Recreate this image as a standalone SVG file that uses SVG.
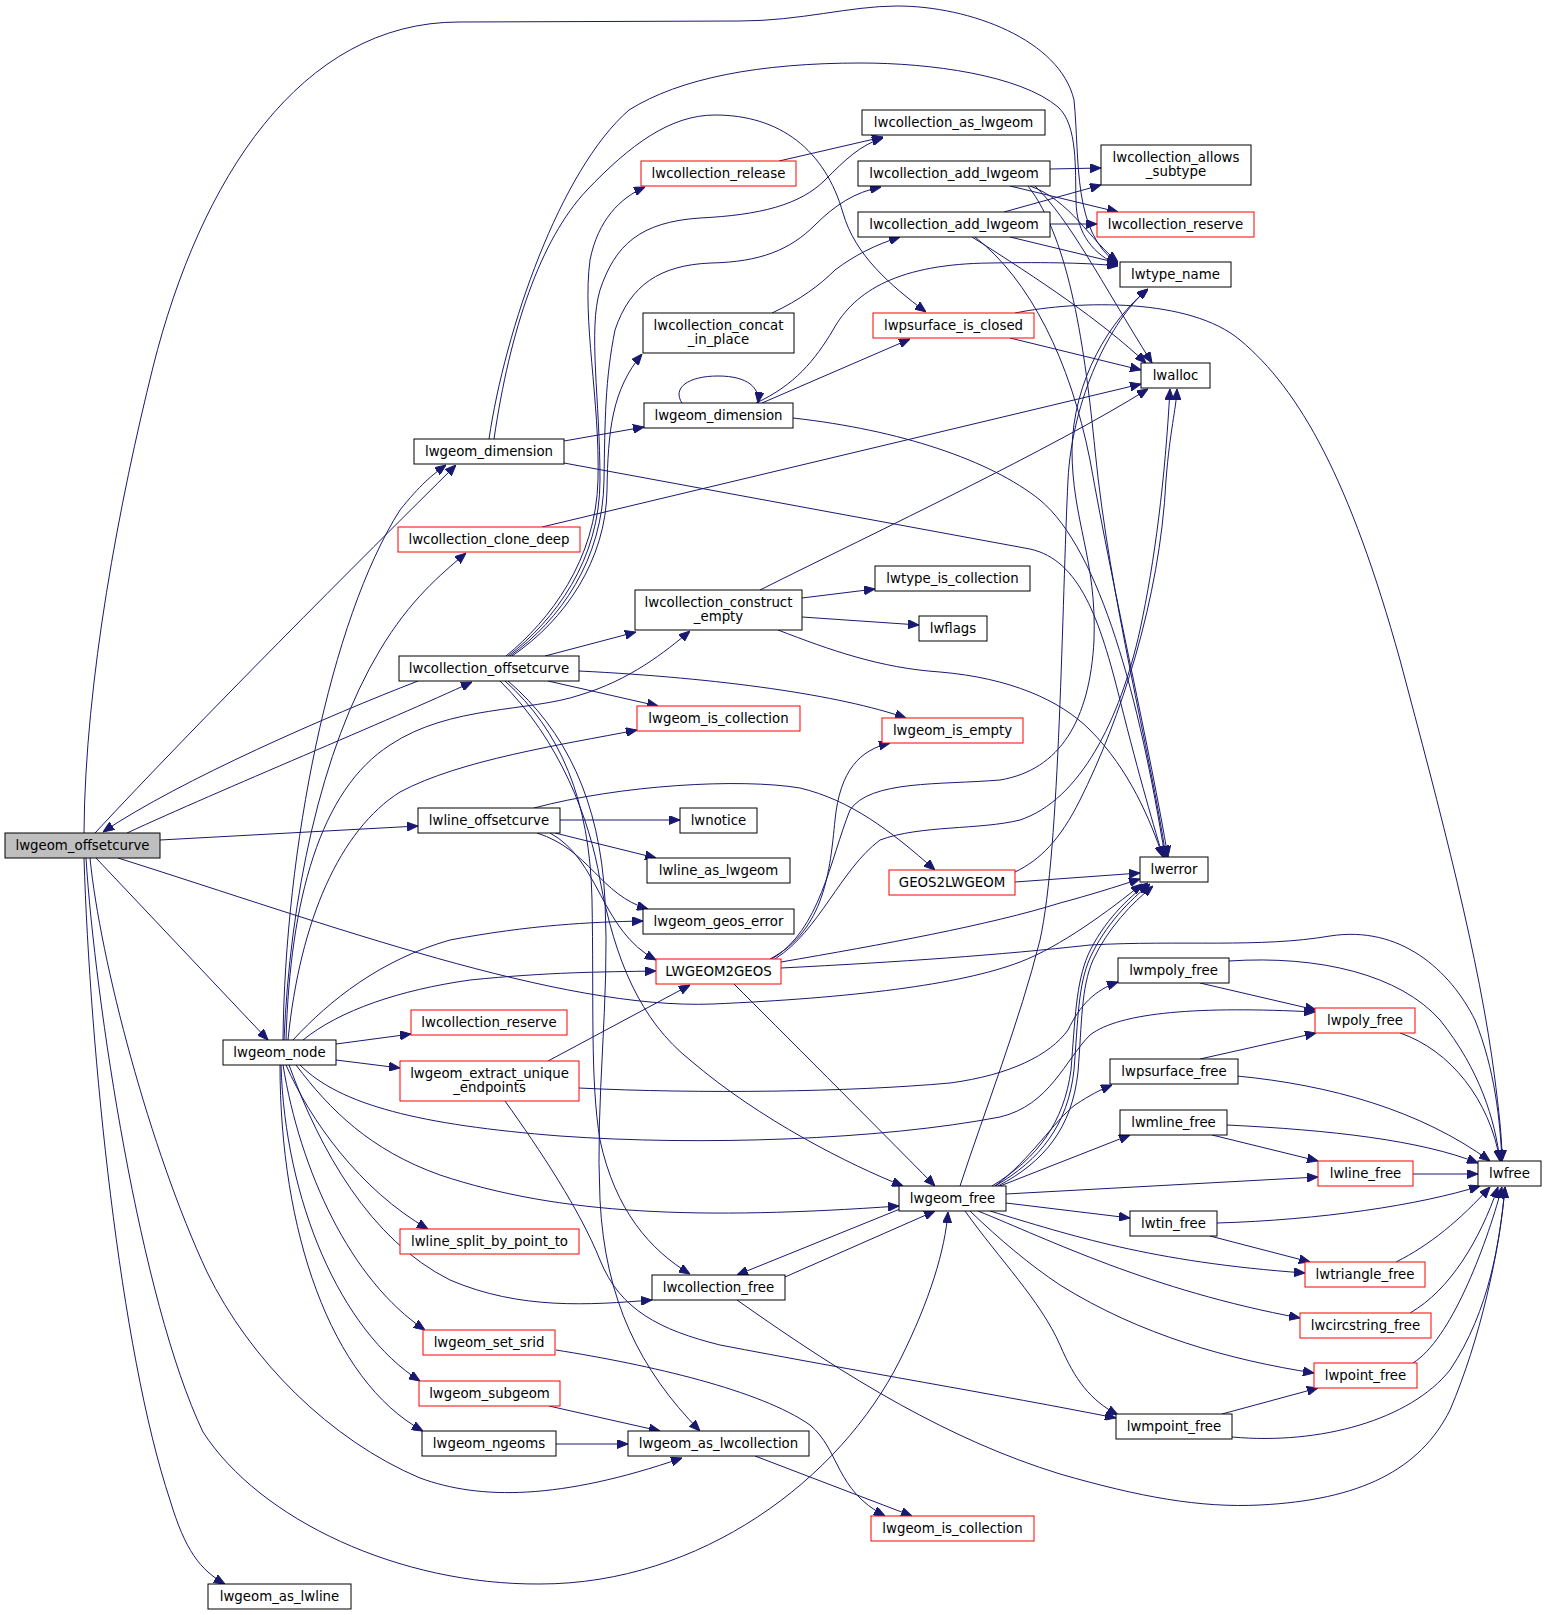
<svg xmlns="http://www.w3.org/2000/svg" width="1547" height="1615" viewBox="0 0 1547 1615">
<style>
.node rect{fill:#ffffff;stroke:#000000;stroke-width:1}
.node.red rect{stroke:#ff0000}
.node.root rect{fill:#bfbfbf}
.node text{font-family:"DejaVu Sans","Liberation Sans",sans-serif;font-size:13.33px;text-anchor:middle;fill:#000000}
#edges path{fill:none;stroke:#191970;stroke-width:1;marker-end:url(#arr)}
</style>
<defs>
<marker id="arr" markerWidth="11" markerHeight="9" refX="11" refY="4.5" orient="auto" markerUnits="userSpaceOnUse">
<path d="M0,0 L11,4.5 L0,9 z" fill="#191970" stroke="#191970" stroke-width="1"/>
</marker>
</defs>
<rect width="1547" height="1615" fill="#ffffff"/>
<g id="edges">
<path d="M84,833 C85,680 120,500 153,367 C200,180 300,22 459,22 L740,21 C800,21 850,6 897,6 C970,6 1060,40 1074,100 C1080,160 1072,232 1118,264"/>
<path d="M489,439 C505,330 560,170 629,110 C680,78 760,63 861,63 C930,63 1020,75 1058,107 C1078,125 1075,170 1076,200 C1076,235 1095,255 1118,265"/>
<path d="M494,439 C510,330 540,240 587,190 C630,145 670,115 715,115 C780,115 825,150 843,213 C855,255 890,285 926,312"/>
<path d="M564,441 L644,427"/>
<path d="M564,463 L1030,549 C1080,560 1100,620 1120,700 C1140,780 1155,830 1163,857"/>
<path d="M682,403 C672,388 688,376 718,376 C748,376 760,388 758,403"/>
<path d="M756,403 C795,385 815,360 833,330 C855,290 900,264 990,263 C1050,262 1090,263 1118,266"/>
<path d="M762,403 L910,339"/>
<path d="M793,418 C900,430 990,460 1040,500 C1100,550 1140,700 1165,857"/>
<path d="M418,681 C330,715 180,780 103,832"/>
<path d="M127,833 C220,790 390,720 472,682"/>
<path d="M95,833 C200,720 360,560 456,465"/>
<path d="M160,840 L418,826"/>
<path d="M96,858 L268,1040"/>
<path d="M118,858 C330,925 560,1010 713,1004 C850,998 960,985 1020,962 C1060,947 1110,910 1142,884"/>
<path d="M90,858 C100,960 150,1150 207,1272 C250,1360 330,1440 420,1478 C480,1500 560,1500 682,1458"/>
<path d="M86,858 C95,1000 140,1300 203,1432 C260,1520 400,1585 540,1584 C700,1584 840,1480 900,1360 C930,1300 945,1250 948,1212"/>
<path d="M84,858 C90,1050 120,1350 170,1500 C185,1550 200,1570 225,1584"/>
<path d="M545,656 L636,632"/>
<path d="M548,681 L658,706"/>
<path d="M579,671 C720,678 840,695 906,718"/>
<path d="M506,656 C550,620 596,560 598,480 C600,400 582,320 590,260 C598,220 620,198 645,187"/>
<path d="M508,656 C555,620 600,560 600,480 C600,400 588,330 600,290 C615,245 640,222 700,218 C760,215 800,205 825,180 C845,160 860,145 883,138"/>
<path d="M510,656 C560,620 603,560 604,480 C605,420 605,380 615,330 C630,285 660,265 711,263 C760,262 790,250 815,225 C835,205 855,192 881,187"/>
<path d="M512,656 C565,620 606,560 607,490 C608,430 612,390 642,354"/>
<path d="M500,681 C560,740 590,820 600,880 C615,960 640,1020 690,1060 C760,1120 850,1165 903,1186"/>
<path d="M505,681 C560,730 590,800 592,900 C594,1000 590,1080 600,1140 C615,1210 650,1250 690,1274"/>
<path d="M508,681 C565,730 600,800 605,900 C610,1000 595,1100 600,1200 C605,1300 640,1370 700,1431"/>
<path d="M560,820 L680,820"/>
<path d="M555,833 L656,858"/>
<path d="M537,833 C590,850 600,895 648,909"/>
<path d="M550,833 C600,860 600,930 656,960"/>
<path d="M534,808 C620,785 740,778 800,788 C850,800 890,830 935,870"/>
<path d="M283,1040 C285,850 330,620 400,510 C420,485 432,475 446,465"/>
<path d="M284,1040 C290,900 320,750 380,650 C410,600 440,575 466,553"/>
<path d="M286,1040 C290,900 320,790 390,745 C450,705 530,712 580,695 C630,680 665,652 690,631"/>
<path d="M288,1040 C300,920 340,830 400,792 C460,760 560,745 637,730"/>
<path d="M293,1040 C330,1000 380,960 450,940 C530,925 590,922 643,921"/>
<path d="M303,1040 C340,1010 400,990 470,980 C550,972 600,972 656,971"/>
<path d="M336,1044 L411,1034"/>
<path d="M336,1060 L400,1068"/>
<path d="M286,1065 C310,1120 360,1190 428,1229"/>
<path d="M283,1065 C300,1170 350,1280 425,1330"/>
<path d="M281,1065 C285,1200 340,1330 420,1381"/>
<path d="M280,1065 C280,1230 330,1380 423,1431"/>
<path d="M289,1065 C320,1150 370,1240 450,1280 C520,1310 590,1305 652,1300"/>
<path d="M296,1065 C330,1110 370,1150 440,1175 C560,1215 700,1220 899,1206"/>
<path d="M300,1065 C340,1105 420,1125 560,1136 C700,1146 880,1140 1000,1117 C1050,1105 1065,1060 1090,1035 C1120,1012 1200,1006 1315,1012"/>
<path d="M548,1061 L690,985"/>
<path d="M505,1101 C540,1150 580,1210 600,1260 C620,1310 660,1330 720,1345 C850,1370 1000,1395 1116,1418"/>
<path d="M579,1088 C700,1094 850,1092 950,1083 C1010,1075 1050,1055 1068,1030 C1080,1005 1095,990 1118,982"/>
<path d="M556,1350 C650,1365 760,1390 810,1425 C840,1450 835,1490 885,1516"/>
<path d="M549,1406 L660,1431"/>
<path d="M556,1444 L628,1444"/>
<path d="M755,1456 L912,1516"/>
<path d="M779,161 L883,137"/>
<path d="M772,313 C800,300 820,285 835,270 C855,255 875,245 900,237"/>
<path d="M802,598 L875,589"/>
<path d="M802,617 L919,625"/>
<path d="M760,590 C880,530 1050,450 1148,389"/>
<path d="M778,630 C830,650 880,668 940,672 C1010,678 1060,700 1090,730 C1130,770 1150,820 1163,857"/>
<path d="M542,527 L1141,384"/>
<path d="M1050,169 L1101,168"/>
<path d="M1010,186 L1118,212"/>
<path d="M1030,186 C1070,200 1090,240 1118,262"/>
<path d="M1035,186 C1070,220 1100,280 1152,363"/>
<path d="M1028,186 C1070,240 1085,350 1095,450 C1110,600 1150,750 1166,857"/>
<path d="M1004,212 L1101,185"/>
<path d="M1050,224 L1097,224"/>
<path d="M1010,237 L1118,263"/>
<path d="M972,237 C1040,280 1100,320 1146,363"/>
<path d="M975,237 C1030,280 1070,360 1090,460 C1115,600 1150,750 1168,857"/>
<path d="M1010,338 L1141,370"/>
<path d="M1015,313 C1080,300 1190,298 1240,340 C1300,390 1350,480 1400,660 C1440,810 1480,960 1495,1080 C1500,1120 1502,1140 1502,1161"/>
<path d="M770,959 C825,930 830,870 835,820 C840,770 860,750 890,743"/>
<path d="M772,959 C820,930 830,860 850,810 C870,780 940,785 1000,780 C1060,770 1090,720 1094,640 C1097,560 1072,520 1072,450 C1073,380 1110,320 1148,289"/>
<path d="M775,959 C820,930 840,870 880,840 C920,825 980,830 1020,820 C1080,800 1120,720 1140,630 C1155,560 1165,480 1170,389"/>
<path d="M781,962 C880,945 990,925 1060,903 C1090,895 1115,887 1140,879"/>
<path d="M781,968 C900,962 1000,955 1090,945 C1180,940 1260,948 1330,936 C1400,925 1450,970 1475,1020 C1495,1070 1500,1120 1502,1161"/>
<path d="M734,984 C780,1030 870,1120 935,1186"/>
<path d="M1015,872 C1040,860 1060,840 1080,800 C1120,720 1160,600 1166,480 C1170,430 1176,410 1177,389"/>
<path d="M1015,882 L1140,873"/>
<path d="M960,1186 C985,1110 1020,1020 1040,940 C1060,850 1062,600 1068,480 C1072,400 1110,320 1148,289"/>
<path d="M900,1209 L737,1275"/>
<path d="M785,1277 L935,1211"/>
<path d="M737,1300 C850,1380 950,1440 1060,1474 C1140,1497 1200,1508 1260,1505 C1360,1500 1420,1470 1450,1410 C1480,1340 1500,1250 1505,1187"/>
<path d="M965,1211 C1000,1260 1040,1300 1060,1345 C1075,1380 1090,1400 1118,1415"/>
<path d="M970,1211 C1000,1240 1030,1265 1060,1285 C1140,1335 1230,1360 1314,1373"/>
<path d="M978,1211 C1050,1240 1150,1290 1300,1318"/>
<path d="M990,1211 C1070,1235 1150,1262 1305,1273"/>
<path d="M1006,1203 L1130,1218"/>
<path d="M1006,1194 L1318,1177"/>
<path d="M1000,1186 L1130,1135"/>
<path d="M995,1186 C1030,1160 1055,1120 1075,1105 C1090,1095 1100,1090 1112,1085"/>
<path d="M992,1186 C1038,1158 1064,1122 1071,1070 C1075,1020 1076,983 1088,955 C1103,922 1128,898 1148,883"/>
<path d="M995,1186 C1040,1160 1068,1125 1074,1070 C1078,1020 1078,985 1090,958 C1105,925 1130,900 1150,884"/>
<path d="M998,1186 C1044,1162 1072,1128 1078,1072 C1082,1022 1081,988 1093,960 C1108,928 1132,903 1153,886"/>
<path d="M1200,983 L1316,1010"/>
<path d="M1229,961 C1320,955 1400,975 1440,1020 C1480,1070 1495,1120 1500,1161"/>
<path d="M1200,1059 L1316,1033"/>
<path d="M1237,1076 C1330,1085 1420,1110 1490,1161"/>
<path d="M1212,1135 L1318,1161"/>
<path d="M1227,1125 C1330,1130 1420,1140 1478,1163"/>
<path d="M1413,1174 L1478,1174"/>
<path d="M1210,1236 L1310,1262"/>
<path d="M1217,1223 C1320,1220 1420,1205 1480,1186"/>
<path d="M1396,1262 C1430,1245 1460,1220 1490,1187"/>
<path d="M1410,1313 C1450,1290 1480,1240 1498,1187"/>
<path d="M1413,1363 C1450,1340 1485,1250 1502,1187"/>
<path d="M1222,1414 L1318,1388"/>
<path d="M1232,1437 C1320,1445 1410,1420 1450,1370 C1490,1310 1500,1240 1505,1187"/>
<path d="M1400,1033 C1450,1050 1490,1100 1500,1161"/>
</g>
<g id="n0" class="node root"><rect x="5" y="833" width="155" height="25"/><text x="82.5" y="850">lwgeom_offsetcurve</text></g>
<g id="n1" class="node"><rect x="414" y="439" width="150" height="25"/><text x="489" y="456">lwgeom_dimension</text></g>
<g id="n2" class="node red"><rect x="398" y="527" width="182" height="25"/><text x="489" y="544">lwcollection_clone_deep</text></g>
<g id="n3" class="node"><rect x="399" y="656" width="180" height="25"/><text x="489" y="673">lwcollection_offsetcurve</text></g>
<g id="n4" class="node"><rect x="418" y="808" width="142" height="25"/><text x="489" y="825">lwline_offsetcurve</text></g>
<g id="n5" class="node"><rect x="223" y="1040" width="113" height="25"/><text x="279.5" y="1057">lwgeom_node</text></g>
<g id="n6" class="node red"><rect x="411" y="1010" width="156" height="25"/><text x="489" y="1027">lwcollection_reserve</text></g>
<g id="n7" class="node red"><rect x="400" y="1061" width="179" height="40"/><text x="489.5" y="1078">lwgeom_extract_unique</text><text x="489.5" y="1092">_endpoints</text></g>
<g id="n8" class="node red"><rect x="400" y="1229" width="179" height="25"/><text x="489.5" y="1246">lwline_split_by_point_to</text></g>
<g id="n9" class="node red"><rect x="423" y="1330" width="132" height="25"/><text x="489" y="1347">lwgeom_set_srid</text></g>
<g id="n10" class="node red"><rect x="419" y="1381" width="141" height="25"/><text x="489.5" y="1398">lwgeom_subgeom</text></g>
<g id="n11" class="node"><rect x="422" y="1431" width="134" height="25"/><text x="489" y="1448">lwgeom_ngeoms</text></g>
<g id="n12" class="node"><rect x="208" y="1584" width="143" height="25"/><text x="279.5" y="1601">lwgeom_as_lwline</text></g>
<g id="n13" class="node red"><rect x="641" y="161" width="155" height="25"/><text x="718.5" y="178">lwcollection_release</text></g>
<g id="n14" class="node"><rect x="643" y="313" width="151" height="40"/><text x="718.5" y="330">lwcollection_concat</text><text x="718.5" y="344">_in_place</text></g>
<g id="n15" class="node"><rect x="644" y="403" width="149" height="25"/><text x="718.5" y="420">lwgeom_dimension</text></g>
<g id="n16" class="node"><rect x="635" y="590" width="167" height="40"/><text x="718.5" y="607">lwcollection_construct</text><text x="718.5" y="621">_empty</text></g>
<g id="n17" class="node red"><rect x="637" y="706" width="163" height="25"/><text x="718.5" y="723">lwgeom_is_collection</text></g>
<g id="n18" class="node"><rect x="680" y="808" width="77" height="25"/><text x="718.5" y="825">lwnotice</text></g>
<g id="n19" class="node"><rect x="647" y="858" width="143" height="25"/><text x="718.5" y="875">lwline_as_lwgeom</text></g>
<g id="n20" class="node"><rect x="643" y="909" width="151" height="25"/><text x="718.5" y="926">lwgeom_geos_error</text></g>
<g id="n21" class="node red"><rect x="656" y="959" width="125" height="25"/><text x="718.5" y="976">LWGEOM2GEOS</text></g>
<g id="n22" class="node"><rect x="652" y="1275" width="133" height="25"/><text x="718.5" y="1292">lwcollection_free</text></g>
<g id="n23" class="node"><rect x="628" y="1431" width="181" height="25"/><text x="718.5" y="1448">lwgeom_as_lwcollection</text></g>
<g id="n24" class="node"><rect x="862" y="110" width="183" height="25"/><text x="953.5" y="127">lwcollection_as_lwgeom</text></g>
<g id="n25" class="node"><rect x="858" y="161" width="192" height="25"/><text x="954" y="178">lwcollection_add_lwgeom</text></g>
<g id="n26" class="node"><rect x="858" y="212" width="192" height="25"/><text x="954" y="229">lwcollection_add_lwgeom</text></g>
<g id="n27" class="node red"><rect x="873" y="313" width="161" height="25"/><text x="953.5" y="330">lwpsurface_is_closed</text></g>
<g id="n28" class="node"><rect x="875" y="566" width="155" height="25"/><text x="952.5" y="583">lwtype_is_collection</text></g>
<g id="n29" class="node"><rect x="919" y="616" width="68" height="25"/><text x="953" y="633">lwflags</text></g>
<g id="n30" class="node red"><rect x="882" y="718" width="141" height="25"/><text x="952.5" y="735">lwgeom_is_empty</text></g>
<g id="n31" class="node red"><rect x="889" y="870" width="126" height="25"/><text x="952" y="887">GEOS2LWGEOM</text></g>
<g id="n32" class="node"><rect x="899" y="1186" width="107" height="25"/><text x="952.5" y="1203">lwgeom_free</text></g>
<g id="n33" class="node red"><rect x="871" y="1516" width="163" height="25"/><text x="952.5" y="1533">lwgeom_is_collection</text></g>
<g id="n34" class="node"><rect x="1101" y="145" width="150" height="40"/><text x="1176" y="162">lwcollection_allows</text><text x="1176" y="176">_subtype</text></g>
<g id="n35" class="node red"><rect x="1097" y="212" width="157" height="25"/><text x="1175.5" y="229">lwcollection_reserve</text></g>
<g id="n36" class="node"><rect x="1120" y="262" width="111" height="25"/><text x="1175.5" y="279">lwtype_name</text></g>
<g id="n37" class="node"><rect x="1141" y="363" width="69" height="25"/><text x="1175.5" y="380">lwalloc</text></g>
<g id="n38" class="node"><rect x="1140" y="857" width="68" height="25"/><text x="1174" y="874">lwerror</text></g>
<g id="n39" class="node"><rect x="1118" y="958" width="111" height="25"/><text x="1173.5" y="975">lwmpoly_free</text></g>
<g id="n40" class="node"><rect x="1110" y="1059" width="128" height="25"/><text x="1174" y="1076">lwpsurface_free</text></g>
<g id="n41" class="node"><rect x="1120" y="1110" width="107" height="25"/><text x="1173.5" y="1127">lwmline_free</text></g>
<g id="n42" class="node"><rect x="1130" y="1211" width="87" height="25"/><text x="1173.5" y="1228">lwtin_free</text></g>
<g id="n43" class="node"><rect x="1116" y="1414" width="116" height="25"/><text x="1174" y="1431">lwmpoint_free</text></g>
<g id="n44" class="node red"><rect x="1315" y="1008" width="100" height="25"/><text x="1365" y="1025">lwpoly_free</text></g>
<g id="n45" class="node red"><rect x="1318" y="1161" width="95" height="25"/><text x="1365.5" y="1178">lwline_free</text></g>
<g id="n46" class="node red"><rect x="1305" y="1262" width="120" height="25"/><text x="1365" y="1279">lwtriangle_free</text></g>
<g id="n47" class="node red"><rect x="1300" y="1313" width="131" height="25"/><text x="1365.5" y="1330">lwcircstring_free</text></g>
<g id="n48" class="node red"><rect x="1314" y="1363" width="103" height="25"/><text x="1365.5" y="1380">lwpoint_free</text></g>
<g id="n49" class="node"><rect x="1478" y="1161" width="63" height="25"/><text x="1509.5" y="1178">lwfree</text></g>
</svg>
